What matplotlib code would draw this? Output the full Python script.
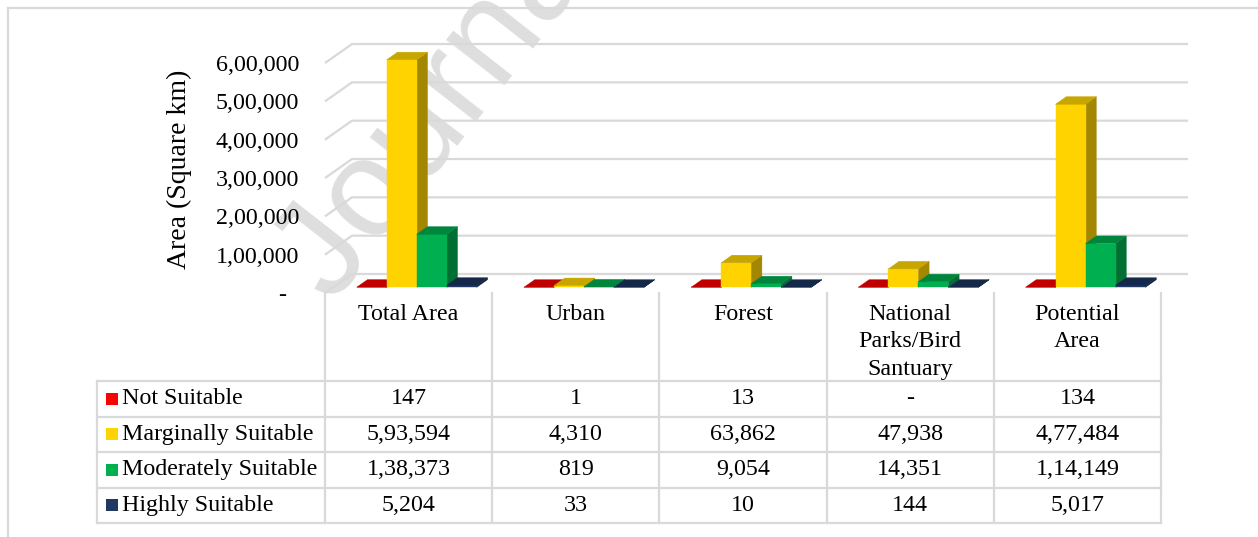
import matplotlib
matplotlib.use("Agg")
import matplotlib.pyplot as plt
from matplotlib.patches import Polygon, Rectangle
from matplotlib.lines import Line2D
import matplotlib.transforms as mtransforms

# ---------------- data ----------------
categories = ["Total Area", "Urban", "Forest", "National\nParks/Bird\nSantuary", "Potential\nArea"]
series_names = ["Not Suitable", "Marginally Suitable", "Moderately Suitable", "Highly Suitable"]
not_suitable = [147, 1, 13, 0, 134]
marginally_suitable = [593594, 4310, 63862, 47938, 477484]
moderately_suitable = [138373, 819, 9054, 14351, 114149]
highly_suitable = [5204, 33, 10, 144, 5017]
y_ticks = [0, 100000, 200000, 300000, 400000, 500000, 600000]
y_label = "Area (Square km)"
watermark = "Journal Pre-proof"

series_values = [not_suitable, marginally_suitable, moderately_suitable, highly_suitable]
front_colors = ["#FF0000", "#FFD300", "#00B050", "#1F3864"]
top_colors = ["#C00000", "#C8A600", "#00863C", "#14284A"]
side_colors = ["#A00000", "#A38700", "#006F31", "#101F3A"]

W, H = 1258, 537
FONT = ["Liberation Serif", "DejaVu Serif"]
FS = 17.3
GRID = "#D9D9D9"


def fx(x):
    return x / W


def fy(y):
    return 1 - y / H


def inr(n):
    """Indian digit grouping, '-' for zero."""
    if n is None or n == 0:
        return "-"
    s = str(int(n))
    if len(s) <= 3:
        return s
    last3, rest = s[-3:], s[:-3]
    groups = []
    while len(rest) > 2:
        groups.insert(0, rest[-2:])
        rest = rest[:-2]
    if rest:
        groups.insert(0, rest)
    return ",".join(groups + [last3])


fig = plt.figure(figsize=(W / 100, H / 100), dpi=100)
fig.patch.set_facecolor("white")

# outer frame
fig.add_artist(Line2D([fx(8), fx(W + 5)], [fy(8), fy(8)], color=GRID, lw=1.6, transform=fig.transFigure))
fig.add_artist(Line2D([fx(8), fx(8)], [fy(8), fy(H + 5)], color=GRID, lw=1.6, transform=fig.transFigure))

# axes geometry (front plane): x from px 325 to 1161, value 0 at px 293, 38.33 px per 100k
px_per_unit_y = 38.33 / 100000
ax_left, ax_right = 325, 1161
ax_bottom = 293
ymax = 700000
ax_top = ax_bottom - ymax * px_per_unit_y
ax = fig.add_axes([fx(ax_left), fy(ax_bottom), (ax_right - ax_left) / W, (ax_bottom - ax_top) / H])
ax.set_zorder(1)
ax.patch.set_visible(False)
n = len(categories)
ax.set_xlim(-0.5, n - 0.5)
ax.set_ylim(0, ymax)
for s in ax.spines.values():
    s.set_visible(False)
ax.set_xticks([])
ax.set_yticks(y_ticks)
ax.set_yticklabels([inr(v) if v else "-  " for v in y_ticks], fontfamily=FONT, fontsize=FS)
ax.tick_params(axis="y", length=0, pad=18.5)

px_per_cat = (ax_right - ax_left) / n
dx = 27 / px_per_cat          # depth offset in category units
dy = 19 / px_per_unit_y        # depth offset in value units

# gridlines: side-wall diagonal + back wall
for v in y_ticks:
    ax.plot([-0.5, -0.5 + dx, n - 0.5 + dx], [v, v + dy, v + dy], color=GRID, lw=1.6,
            clip_on=False, zorder=1, solid_capstyle="butt")

# bars (oblique 3D)
w = 30 / px_per_cat
f0, f1 = 0.3, 0.7
for i in range(n):
    for j, vals in enumerate(series_values):
        v = vals[i]
        xl = i - 2 * w + j * w
        x0, x1 = xl + f0 * dx, xl + w + f0 * dx
        y0 = f0 * dy
        bx0, bx1 = xl + f1 * dx, xl + w + f1 * dx
        by0 = f1 * dy
        side = Polygon([(x1, y0), (bx1, by0), (bx1, by0 + v), (x1, y0 + v)],
                       closed=True, fc=side_colors[j], ec=side_colors[j], lw=0.3, zorder=3, clip_on=False)
        front = Polygon([(x0, y0), (x1, y0), (x1, y0 + v), (x0, y0 + v)],
                        closed=True, fc=front_colors[j], ec=front_colors[j], lw=0.3, zorder=3, clip_on=False)
        top = Polygon([(x0, y0 + v), (x1, y0 + v), (bx1, by0 + v), (bx0, by0 + v)],
                      closed=True, fc=top_colors[j], ec=top_colors[j], lw=0.3, zorder=3, clip_on=False)
        for p in (side, front, top):
            ax.add_patch(p)

# y label
fig.text(fx(179), fy(169), y_label, rotation=90, ha="center", va="center",
         fontfamily=FONT, fontsize=20)

# ---------------- data table ----------------
bt = mtransforms.blended_transform_factory(ax.transData, fig.transFigure)
header_top = 293
header_bottom = 381
row_h = 35.5
row_edges = [header_bottom + k * row_h for k in range(len(series_names) + 1)]
table_bottom = row_edges[-1]
label_left = 97

# vertical column lines
for k in range(n + 1):
    xk = -0.5 + k
    fig.add_artist(Line2D([xk, xk], [fy(header_top), fy(table_bottom)], color=GRID, lw=1.6, transform=bt))
fig.add_artist(Line2D([fx(label_left), fx(label_left)], [fy(header_bottom), fy(table_bottom)],
                      color=GRID, lw=1.6, transform=fig.transFigure))
x_right_fig = fx(ax_right)
for ye in row_edges:
    fig.add_artist(Line2D([fx(label_left), x_right_fig], [fy(ye), fy(ye)], color=GRID, lw=1.6,
                          transform=fig.transFigure))

# headers
line_sp = 27.5
for i, cat in enumerate(categories):
    for li, line in enumerate(cat.split("\n")):
        fig.text(i, fy(314 + li * line_sp), line, transform=bt, ha="center", va="center",
                 fontfamily=FONT, fontsize=FS)

# rows
for j, name in enumerate(series_names):
    yc = (row_edges[j] + row_edges[j + 1]) / 2
    fig.add_artist(Rectangle((fx(106), fy(yc + 6)), 12 / W, 12 / H, transform=fig.transFigure,
                             fc=front_colors[j], ec="none"))
    fig.text(fx(122), fy(yc), name, ha="left", va="center", fontfamily=FONT, fontsize=FS)
    for i in range(n):
        fig.text(i, fy(yc), inr(series_values[j][i]), transform=bt, ha="center", va="center",
                 fontfamily=FONT, fontsize=FS)

# watermark
fig.text(fx(333), fy(305), watermark, rotation=52, rotation_mode="anchor", ha="left", va="baseline",
         fontfamily=["Liberation Sans", "DejaVu Sans"], fontsize=100, color="#DEDEDE", zorder=0.5)

fig.savefig("out.png", dpi=100)
